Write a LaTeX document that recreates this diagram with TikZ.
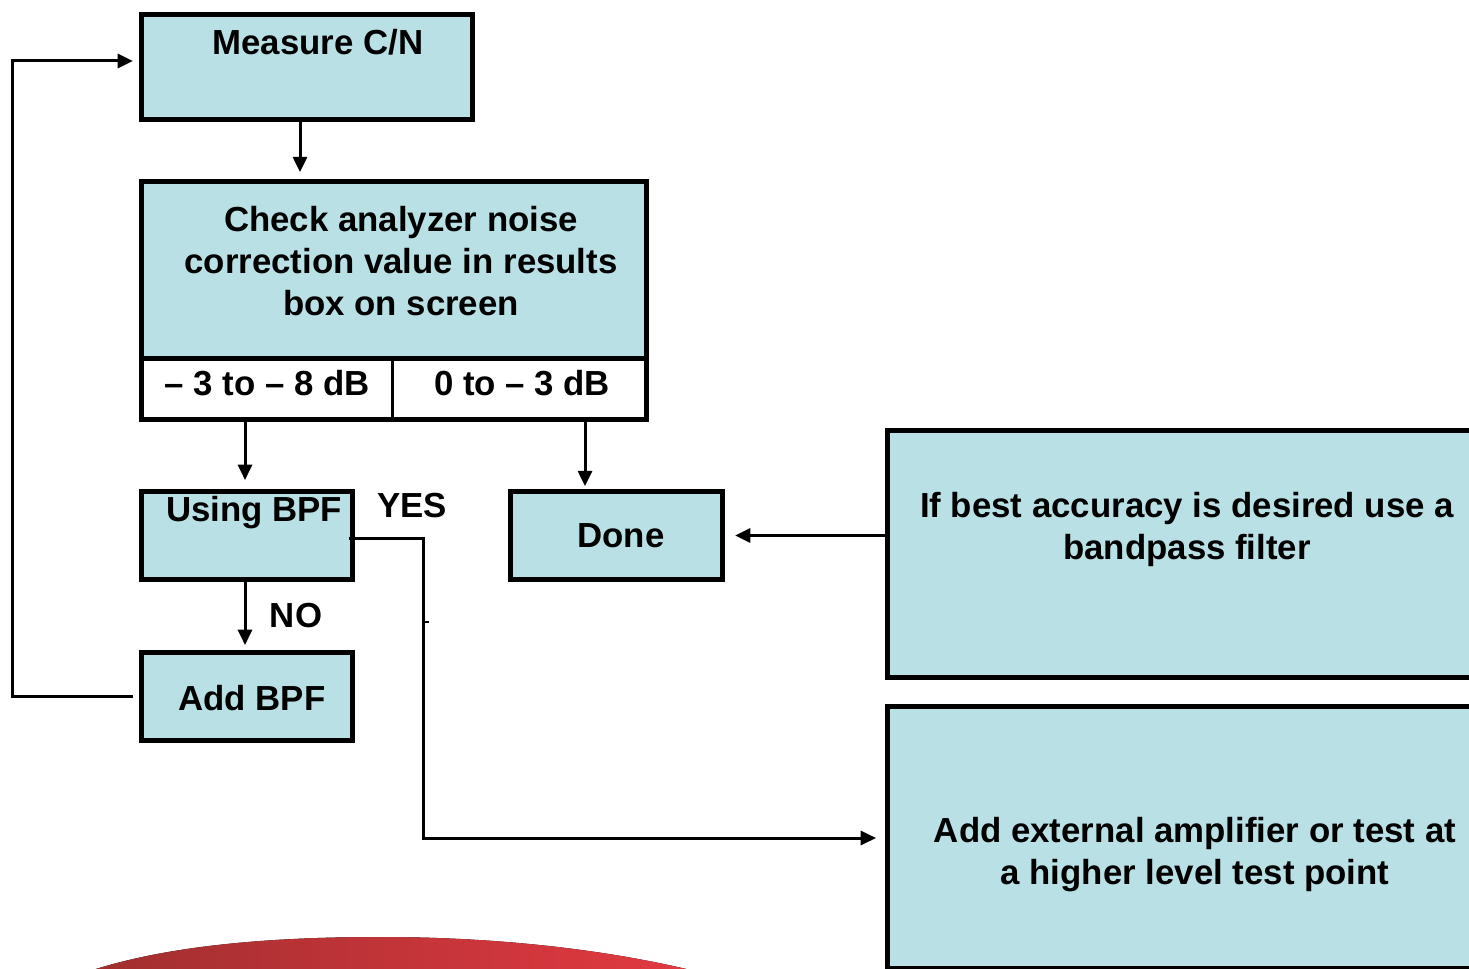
\documentclass[tikz,border=0pt]{standalone}
\usepackage{fontspec}
\setmainfont{Liberation Sans}
\usetikzlibrary{arrows.meta,calc}
\definecolor{boxfill}{RGB}{185,224,228}
\definecolor{swL}{RGB}{158,46,46}
\definecolor{swR}{RGB}{230,58,66}
\tikzset{
  box/.style={draw=black, line width=4.1pt, fill=boxfill, rectangle, inner sep=0pt, outer sep=0pt},
  sz/.style 2 args={minimum width={#1*0.75pt}, minimum height={#2*0.75pt}},
  lbl/.style={font=\fontsize{26.1}{31.5}\selectfont\bfseries, inner sep=0pt, align=center},
  conn/.style={line width=2.25pt, draw=black},
  arr/.style={conn, -{Triangle[length=11.5pt,width=10.5pt]}},
}
\begin{document}
\begin{tikzpicture}[x=0.75pt,y=-0.75pt]
\useasboundingbox (0,0) rectangle (1469,969);
\clip (0,0) rectangle (1469,969);

% red swoosh
\fill[left color=swL, right color=swR] (70,978) .. controls (150,947) and (260,937) .. (380,937) .. controls (500,937) and (620,950) .. (722,978) -- cycle;

% boxes
\node[box, sz={331}{105}] (measure) at (307,67) {};
\node[box, sz={505}{177}] (check) at (394,270) {};
\node[box, sz={505}{61}, fill=white] (range) at (394,389) {};
\draw[line width=2.25pt] (range.north -| 392,0) -- (range.south -| 392,0);
\node[box, sz={211}{88}] (usebpf) at (247,535.5) {};
\node[box, sz={211}{88}] (addbpf) at (247,696.5) {};
\node[box, sz={212}{88}] (done) at (616.5,535.5) {};
\node[box, sz={588}{247}] (tip1) at (1181.5,554) {};
\node[box, sz={588}{262}] (amp) at (1181.5,837.5) {};

% texts
\node[lbl] (tmeasure) at (318,42) {Measure C/N};
\node[lbl] (tcheck) at (401,261) {Check analyzer noise\\correction value in results\\box on screen};
\node[lbl] (trangeL) at (267,383) {\textendash{} 3 to \textendash{} 8 dB};
\node[lbl] (trangeR) at (522,383) {0 to \textendash{} 3 dB};
\node[lbl] (tusing) at (254,513) {Using BPF};
\node[lbl] (tyes) at (412,506) {YES};
\node[lbl] (tno) at (296,616) {NO};
\node[lbl] (tadd) at (252,698) {Add BPF};
\node[lbl] (tdone) at (621,536) {Done};
\node[lbl] (ttip) at (1187,530) {If best accuracy is desired use a\\bandpass filter};
\node[lbl] (tamp) at (1195,855) {Add external amplifier or test at\\a higher level test point};

% connectors
\draw[arr, shorten >=7pt] (measure.south -| 300,0) -- (check.north -| 300,0);
\draw[arr, shorten >=8.6pt] (range.south -| 245,0) -- (usebpf.north -| 245,0);
\draw[arr, shorten >=4pt] (range.south -| 585,0) -- (done.north -| 585,0);
\draw[arr, shorten >=5.6pt] (usebpf.south -| 245,0) -- (addbpf.north -| 245,0);
\draw[arr, shorten >=9.4pt] (tip1.west |- done.east) -- (done.east);
\draw[arr, shorten <=6.4pt, shorten >=6.4pt] (addbpf.west |- 0,696) -- (12,696) |- (measure.west |- 0,61);
\draw[arr, shorten >=8.6pt] ($(usebpf.east)+(-4,2.5)$) -- (423,538) |- (amp.west |- 0,838);
\draw[line width=1.5pt] (423,622) -- (429,622);
\end{tikzpicture}
\end{document}
